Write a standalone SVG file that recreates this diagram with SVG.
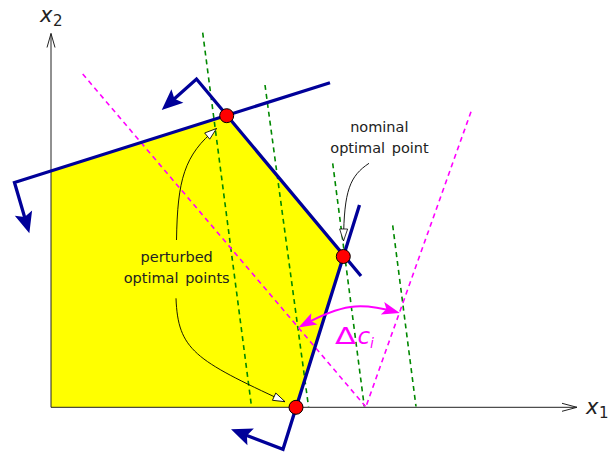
<svg xmlns="http://www.w3.org/2000/svg" width="609" height="453" viewBox="0 0 609 453">
<defs>
<style>
.axis{fill:none;stroke:#222;stroke-width:1}
.blue{fill:none;stroke:#000099;stroke-width:3.3;stroke-linejoin:miter;marker-end:url(#bh)}
.green{fill:none;stroke:#008800;stroke-width:1.6;stroke-dasharray:5 4}
.mag{fill:none;stroke:#ff00ff;stroke-width:1.6;stroke-dasharray:5 4}
.dot{fill:#ff0000;stroke:#000;stroke-width:1}
.ann{fill:none;stroke:#000;stroke-width:0.9;marker-end:url(#oh)}
.lbl{font-family:"DejaVu Sans",sans-serif;font-size:14.5px;fill:#222;text-anchor:middle;word-spacing:2px}
.math{font-family:"DejaVu Sans",sans-serif;fill:#222}
</style>
<marker id="bh" markerUnits="userSpaceOnUse" viewBox="-14 -10 23 20" refX="0" refY="0" markerWidth="23" markerHeight="20" orient="auto" overflow="visible">
<path d="M8,0 L-13,-9 L-9,0 L-13,9 z" fill="#000099"/>
</marker>
<marker id="mh" markerUnits="userSpaceOnUse" viewBox="-15 -8 20 16" refX="0" refY="0" markerWidth="20" markerHeight="16" orient="auto-start-reverse" overflow="visible">
<path d="M4,0 L-14,-6.5 L-10,0 L-14,6.5 z" fill="#ff00ff"/>
</marker>
<marker id="oh" markerUnits="userSpaceOnUse" viewBox="-14 -6 15 12" refX="0" refY="0" markerWidth="15" markerHeight="12" orient="auto" overflow="visible">
<path d="M0,0 L-12,-4 L-12,4 z" fill="#fff" stroke="#000" stroke-width="0.8"/>
</marker>
</defs>

<g id="region">
<polygon points="51,171 226.7,115.7 343.3,256 296,407.3 51,407.3" fill="#ffff00"/>
</g>

<g id="axes">
<line class="axis" x1="51" y1="407.3" x2="51" y2="33.5"/>
<polyline class="axis" points="47,47.5 51,33.5 55,47.5"/>
<line class="axis" x1="51" y1="407.3" x2="577" y2="407.3"/>
<polyline class="axis" points="562,403.3 577,407.3 562,411.3"/>
<text class="math" x="40" y="21.7" font-size="21" font-style="italic">x</text>
<text class="math" x="53" y="26" font-size="15">2</text>
<text class="math" x="586" y="414" font-size="21" font-style="italic">x</text>
<text class="math" x="599" y="418" font-size="15">1</text>
</g>

<g id="cost-lines">
<line class="green" x1="202.7" y1="32.7" x2="251.5" y2="406.5"/>
<line class="green" x1="265" y1="85" x2="308.5" y2="406.5"/>
<line class="green" x1="332.7" y1="163.3" x2="364.3" y2="406.5"/>
<line class="green" x1="392.7" y1="225.3" x2="416" y2="406.5"/>
<line class="mag" x1="82.7" y1="74" x2="365.5" y2="406.5"/>
<line class="mag" x1="471" y1="111.7" x2="366" y2="406.5"/>
</g>

<g id="constraints">
<path class="blue" d="M330,82.7 L14.5,182.5 L27.1,225.6"/>
<path class="blue" d="M361,276 L196.5,79 L167.7,104.7"/>
<path class="blue" d="M359.5,205 L283,449.3 L238.5,432.2"/>
</g>

<g id="points">
<circle class="dot" cx="226.7" cy="115.7" r="7"/>
<circle class="dot" cx="343.3" cy="256.5" r="7"/>
<circle class="dot" cx="296" cy="407.3" r="7"/>
</g>

<g id="connectors">
<path class="ann" d="M369,163.3 C350,176 344,190 343.5,241"/>
<path class="ann" d="M176.5,240 C177.5,180 184,155 216.5,128.5"/>
<path class="ann" d="M176,298.3 C178,350 195,360 285,401.7"/>
<path d="M302,325.5 C342,304 360,302 396,312" fill="none" stroke="#ff00ff" stroke-width="2" marker-start="url(#mh)" marker-end="url(#mh)"/>
</g>

<g id="labels">
<text class="lbl" x="379.3" y="131.5">nominal</text>
<text class="lbl" x="379.5" y="152.7">optimal point</text>
<text class="lbl" x="176.7" y="261.5">perturbed</text>
<text class="lbl" x="176.7" y="283">optimal points</text>
<text x="335" y="344" font-family="DejaVu Sans,sans-serif" font-size="23" fill="#ff00ff" textLength="21" lengthAdjust="spacingAndGlyphs">Δ</text>
<text x="357.5" y="344" font-family="DejaVu Sans,sans-serif" font-size="23" font-style="italic" fill="#ff00ff">c</text>
<text x="370" y="348.3" font-family="DejaVu Sans,sans-serif" font-size="14" font-style="italic" fill="#ff00ff">i</text>
</g>
</svg>
